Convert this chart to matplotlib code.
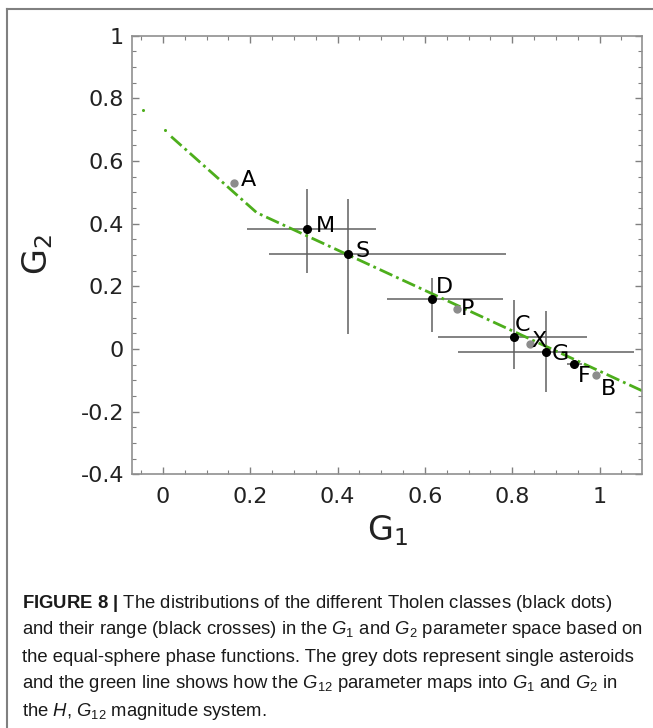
import matplotlib
matplotlib.use("Agg")
import matplotlib.pyplot as plt
from matplotlib.lines import Line2D
from matplotlib.ticker import MultipleLocator

# Tholen classes (black dots with range crosses)
cls_names = ["M", "S", "D", "C", "G", "F"]
cls_g1 = [0.330, 0.423, 0.617, 0.805, 0.878, 0.942]
cls_g2 = [0.384, 0.303, 0.158, 0.038, -0.010, -0.047]
cls_g1_lo = [0.193, 0.244, 0.514, 0.629, 0.677, 0.925]
cls_g1_hi = [0.489, 0.786, 0.780, 0.971, 1.080, 0.960]
cls_g2_lo = [0.243, 0.049, 0.054, -0.063, -0.138, -0.055]
cls_g2_hi = [0.511, 0.480, 0.227, 0.156, 0.120, -0.040]

# single asteroids (grey dots)
ast_names = ["A", "P", "X", "B"]
ast_g1 = [0.163, 0.673, 0.840, 0.993]
ast_g2 = [0.530, 0.126, 0.017, -0.082]

# G12 mapping line (vertices)
line_g1 = [0.019, 0.215, 1.100]
line_g2 = [0.678, 0.435, -0.135]
dot_g1 = [-0.046, 0.004]
dot_g2 = [0.763, 0.699]

# label offsets in pixels
offsets = {"A": (7, 3), "M": (9, 3), "S": (8, 3), "D": (4, 12), "P": (4, 0),
           "C": (0, 12), "X": (2, 3), "G": (6, -2), "F": (4, -12), "B": (4, -14)}

caption = [
    r"$\mathbf{FIGURE\ 8\ |}$ The distributions of the different Tholen classes (black dots)",
    r"and their range (black crosses) in the $\mathit{G}_1$ and $\mathit{G}_2$ parameter space based on",
    r"the equal-sphere phase functions. The grey dots represent single asteroids",
    r"and the green line shows how the $\mathit{G}_{12}$ parameter maps into $\mathit{G}_1$ and $\mathit{G}_2$ in",
    r"the $\mathit{H}$, $\mathit{G}_{12}$ magnitude system.",
]

plt.rcParams["font.family"] = "DejaVu Sans"
plt.rcParams["mathtext.fontset"] = "custom"
plt.rcParams["mathtext.rm"] = "Liberation Sans"
plt.rcParams["mathtext.it"] = "Liberation Sans:italic"
plt.rcParams["mathtext.bf"] = "Liberation Sans:bold"
plt.rcParams["mathtext.sf"] = "DejaVu Sans"

fig = plt.figure(figsize=(6.53, 7.28), dpi=100)
ax = fig.add_axes([0.2026, 0.3485, 0.781, 0.6025])

green = "#4dae1c"
ax.plot(line_g1, line_g2, color=green, lw=2, dashes=(5, 1.5, 1, 1.5), zorder=2)
ax.plot(dot_g1, dot_g2, "o", color=green, ms=2.2, mec="none", zorder=2)

xerr = [[c - lo for c, lo in zip(cls_g1, cls_g1_lo)], [hi - c for c, hi in zip(cls_g1, cls_g1_hi)]]
yerr = [[c - lo for c, lo in zip(cls_g2, cls_g2_lo)], [hi - c for c, hi in zip(cls_g2, cls_g2_hi)]]
ax.errorbar(cls_g1, cls_g2, xerr=xerr, yerr=yerr, fmt="none", ecolor="#606060",
            elinewidth=1.1, capsize=0, zorder=1)
ax.plot(cls_g1, cls_g2, "o", color="black", ms=5.5, zorder=3)
ax.plot(ast_g1, ast_g2, "o", color="#8c8c8c", ms=5, zorder=3)

for name, x, y in list(zip(cls_names, cls_g1, cls_g2)) + list(zip(ast_names, ast_g1, ast_g2)):
    dx, dy = offsets[name]
    ax.annotate(name, (x, y), xytext=(dx * 0.72, dy * 0.72), textcoords="offset points",
                ha="left", va="center", fontsize=16, color="black", zorder=4,
                family="DejaVu Sans")

ax.set_xlim(-0.07, 1.098)
ax.set_ylim(-0.4, 1.0)
ax.xaxis.set_major_locator(MultipleLocator(0.2))
ax.xaxis.set_minor_locator(MultipleLocator(0.05))
ax.yaxis.set_major_locator(MultipleLocator(0.2))
ax.yaxis.set_minor_locator(MultipleLocator(0.05))
fmt = plt.FuncFormatter(lambda v, p: f"{v:g}" if abs(v) > 1e-9 else "0")
ax.xaxis.set_major_formatter(fmt)
ax.yaxis.set_major_formatter(fmt)
ax.tick_params(which="both", direction="in", top=True, right=True, color="#808080",
               labelsize=16, labelcolor="#222222")
ax.tick_params(which="major", length=5, width=1)
ax.tick_params(which="minor", length=3, width=0.8)
ax.tick_params(axis="x", pad=9)
ax.tick_params(axis="y", pad=6)
for lab in ax.get_xticklabels() + ax.get_yticklabels():
    lab.set_family("DejaVu Sans")
for s in ax.spines.values():
    s.set_color("#909090")
    s.set_linewidth(1.2)

ax.set_xlabel(r"$\mathsf{G_1}$", fontsize=24, color="#222222", labelpad=5)
ax.set_ylabel(r"$\mathsf{G_2}$", fontsize=24, color="#222222", labelpad=18)

# figure frame (top and left)
fig.add_artist(Line2D([7 / 653, 1], [1 - 9.3 / 728, 1 - 9.3 / 728], color="#808080", lw=1.5))
fig.add_artist(Line2D([7 / 653, 7 / 653], [0, 1 - 9.3 / 728], color="#808080", lw=1.5))

# caption, sized so that the third line spans the width seen in the reference
texts = []
for i, line in enumerate(caption):
    t = fig.text(22 / 653, 1 - (603 + 27 * i) / 728, line, fontsize=12, va="center", ha="left",
                 family=["Liberation Sans", "DejaVu Sans"], color="#1a1a1a")
    texts.append(t)
fig.canvas.draw()
w = texts[2].get_window_extent().width
size = 12 * 614 / w
for t in texts:
    t.set_fontsize(size)

fig.savefig("out.png", dpi=100)
